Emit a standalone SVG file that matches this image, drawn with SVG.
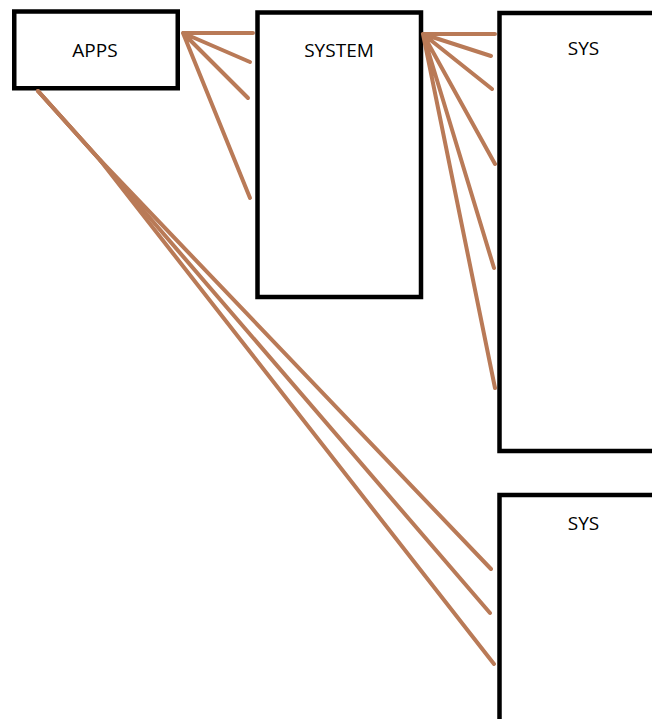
<svg xmlns="http://www.w3.org/2000/svg" width="652" height="719" viewBox="0 0 652 719">
<style>
.box{fill:#fff;stroke:#000;stroke-width:4.5}
.lbl{font-family:"Open Sans","Liberation Sans",sans-serif;font-size:19px;fill:#000;text-anchor:middle}
.c{fill:none;stroke:#B97A57;stroke-width:4;stroke-linecap:round;stroke-linejoin:round}
</style>
<rect width="652" height="719" fill="#fff"/>
<g id="apps"><rect class="box" x="14.25" y="11.5" width="163.5" height="76.75"/><text class="lbl" x="95" y="57">APPS</text></g>
<g id="system"><rect class="box" x="257.5" y="12.5" width="163.5" height="284.5"/><text class="lbl" x="339" y="57">SYSTEM</text></g>
<g id="sys1"><rect class="box" x="499.5" y="13" width="200" height="438"/><text class="lbl" x="583.5" y="55">SYS</text></g>
<g id="sys2"><rect class="box" x="499.5" y="495" width="200" height="300"/><text class="lbl" x="583.5" y="530">SYS</text></g>
<g id="connectors">
<path class="c" d="M183,33 L253,33 M183,33 L250,62 M183,33 L248,98 M183,33 L250,198"/>
<path class="c" d="M423,34 L495,34 M423,34 L491,56 M423,34 L492,89 M423,34 L495,164 M423,34 L494,268 M423,34 L495,388"/>
<polyline class="c" points="38,91 100,160 491,569"/>
<polyline class="c" points="38,91 100,160 490,613"/>
<polyline class="c" points="38,91 100,160 494,664"/>
</g>
</svg>
